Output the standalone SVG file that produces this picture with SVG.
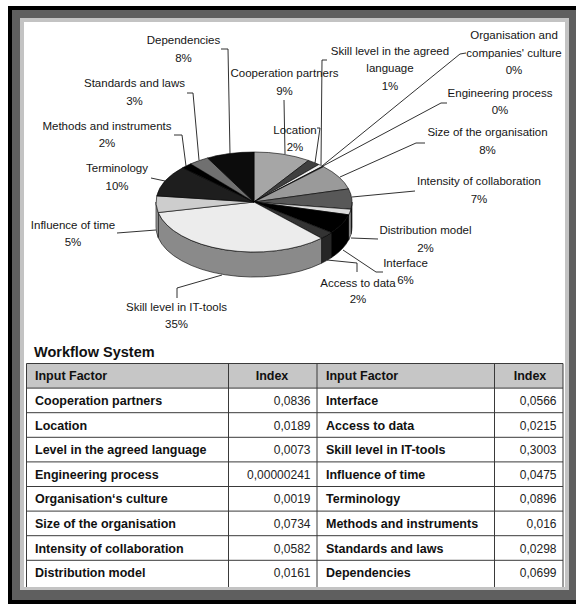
<svg xmlns="http://www.w3.org/2000/svg" width="576" height="604" viewBox="0 0 576 604">
  <style>
    .lbl { font-family: "Liberation Sans", Arial, sans-serif; font-size: 11.5px; fill: #151515; text-anchor: middle; }
    .slice { stroke: #000; stroke-width: 0.6; stroke-linejoin: round; }
    .lead { fill: none; stroke: #1a1a1a; stroke-width: 0.9; }
    .grid { stroke: #3a3a3a; stroke-width: 1; fill: none; }
    .th { font-family: "Liberation Sans", Arial, sans-serif; font-size: 12.5px; font-weight: bold; fill: #111; }
    .tn { font-family: "Liberation Sans", Arial, sans-serif; font-size: 12.5px; font-weight: bold; fill: #111; }
    .tv { font-family: "Liberation Sans", Arial, sans-serif; font-size: 12px; fill: #222; text-anchor: end; }
    .title { font-family: "Liberation Sans", Arial, sans-serif; font-size: 14.5px; font-weight: bold; fill: #111; }
  </style>

  <!-- window frame -->
  <g id="frame">
    <rect x="8" y="6" width="568" height="598" fill="#000"/>
    <rect x="12" y="10" width="564" height="590" fill="#5f5f5f"/>
    <rect x="20" y="18" width="549" height="572" fill="#c3c3c3"/>
    <rect x="24" y="22" width="541" height="565" fill="#fff"/>
  </g>

  <!-- 3D pie: side walls of the front half -->
  <g id="pie-sides">
    <path class="slice" fill="#3c3c3c" d="M352,202 A98,50 0 0 1 350.96,209.26 L350.96,234.26 A98,50 0 0 0 352,227 Z"/>
    <path class="slice" fill="#b4b4b4" d="M350.96,209.26 A98,50 0 0 1 348.73,214.82 L348.73,239.82 A98,50 0 0 0 350.96,234.26 Z"/>
    <path class="slice" fill="#000" d="M348.73,214.82 A98,50 0 0 1 331.52,232.6 L331.52,257.6 A98,50 0 0 0 348.73,239.82 Z"/>
    <path class="slice" fill="#262626" d="M331.52,232.6 A98,50 0 0 1 321.52,238.24 L321.52,263.24 A98,50 0 0 0 331.52,257.6 Z"/>
    <path class="slice" fill="#8a8a8a" d="M321.52,238.24 A98,50 0 0 1 158.21,212.56 L158.21,237.56 A98,50 0 0 0 321.52,263.24 Z"/>
    <path class="slice" fill="#a8a8a8" d="M158.21,212.56 A98,50 0 0 1 156,202 L156,227 A98,50 0 0 0 158.21,237.56 Z"/>
  </g>

  <!-- 3D pie: top faces, clockwise from 12 o'clock -->
  <g id="pie-top">
    <path id="s-cooperation" class="slice" fill="#a6a6a6" d="M254,202 L254,152 A98,50 0 0 1 308.51,160.44 Z"/>
    <path id="s-location" class="slice" fill="#404040" d="M254,202 L308.51,160.44 A98,50 0 0 1 318.85,164.51 Z"/>
    <path id="s-language" class="slice" fill="#f0f0f0" d="M254,202 L318.85,164.51 A98,50 0 0 1 322.54,166.26 Z"/>
    <path id="s-culture" class="slice" fill="#303030" d="M254,202 L322.54,166.26 A98,50 0 0 1 323.47,166.73 Z"/>
    <path id="s-size" class="slice" fill="#9a9a9a" d="M254,202 L323.47,166.73 A98,50 0 0 1 348.58,188.91 Z"/>
    <path id="s-intensity" class="slice" fill="#585858" d="M254,202 L348.58,188.91 A98,50 0 0 1 350.96,209.26 Z"/>
    <path id="s-distribution" class="slice" fill="#dcdcdc" d="M254,202 L350.96,209.26 A98,50 0 0 1 348.73,214.82 Z"/>
    <path id="s-interface" class="slice" fill="#000" d="M254,202 L348.73,214.82 A98,50 0 0 1 331.52,232.6 Z"/>
    <path id="s-access" class="slice" fill="#333" d="M254,202 L331.52,232.6 A98,50 0 0 1 321.52,238.24 Z"/>
    <path id="s-ittools" class="slice" fill="#ececec" d="M254,202 L321.52,238.24 A98,50 0 0 1 158.21,212.56 Z"/>
    <path id="s-time" class="slice" fill="#cdcdcd" d="M254,202 L158.21,212.56 A98,50 0 0 1 156.73,195.89 Z"/>
    <path id="s-terminology" class="slice" fill="#1e1e1e" d="M254,202 L156.73,195.89 A98,50 0 0 1 182.63,167.74 Z"/>
    <path id="s-methods" class="slice" fill="#000" d="M254,202 L182.63,167.74 A98,50 0 0 1 190.64,163.86 Z"/>
    <path id="s-standards" class="slice" fill="#707070" d="M254,202 L190.64,163.86 A98,50 0 0 1 207.62,157.96 Z"/>
    <path id="s-dependencies" class="slice" fill="#0c0c0c" d="M254,202 L207.62,157.96 A98,50 0 0 1 254,152 Z"/>
  </g>

  <!-- leader lines from slices to labels -->
  <g id="leaders">
    <polyline class="lead" points="221,49 228,49 230,154"/>
    <polyline class="lead" points="187,93 193,93 199,160"/>
    <polyline class="lead" points="174,135 182,135 186,166"/>
    <polyline class="lead" points="151,178 165,181"/>
    <polyline class="lead" points="117,233 156,230"/>
    <polyline class="lead" points="177,298 177,288 222,275"/>
    <polyline class="lead" points="327,260 357,263 357,272"/>
    <polyline class="lead" points="343,250 376,272 383,272"/>
    <polyline class="lead" points="351,238 378,239"/>
    <polyline class="lead" points="352,197 415,191"/>
    <polyline class="lead" points="340,177 416,143 425,143"/>
    <polyline class="lead" points="323,166 441,103 447,103"/>
    <polyline class="lead" points="322,166 460,54 466,53"/>
    <polyline class="lead" points="321,165 322,60 327,60"/>
    <polyline class="lead" points="317,128 320,128 315,163"/>
    <polyline class="lead" points="284,100 285,154"/>
  </g>

  <!-- slice labels -->
  <g id="l-dependencies"><text class="lbl" x="183.5" y="44">Dependencies</text><text class="lbl" x="183.5" y="62">8%</text></g>
  <g id="l-standards"><text class="lbl" x="134.5" y="87">Standards and laws</text><text class="lbl" x="134.5" y="105">3%</text></g>
  <g id="l-methods"><text class="lbl" x="107" y="130">Methods and instruments</text><text class="lbl" x="107" y="147">2%</text></g>
  <g id="l-terminology"><text class="lbl" x="117" y="172">Terminology</text><text class="lbl" x="117" y="190">10%</text></g>
  <g id="l-time"><text class="lbl" x="73" y="229">Influence of time</text><text class="lbl" x="73" y="246">5%</text></g>
  <g id="l-ittools"><text class="lbl" x="176.5" y="311">Skill level in IT-tools</text><text class="lbl" x="176.5" y="328">35%</text></g>
  <g id="l-cooperation"><text class="lbl" x="284.5" y="77">Cooperation partners</text><text class="lbl" x="284.5" y="95">9%</text></g>
  <g id="l-location"><text class="lbl" x="295" y="134">Location</text><text class="lbl" x="295" y="151">2%</text></g>
  <g id="l-language"><text class="lbl" x="390" y="55">Skill level in the agreed</text><text class="lbl" x="390" y="72">language</text><text class="lbl" x="390" y="90">1%</text></g>
  <g id="l-culture"><text class="lbl" x="514" y="39">Organisation and</text><text class="lbl" x="514" y="57">companies' culture</text><text class="lbl" x="514" y="74">0%</text></g>
  <g id="l-engineering"><text class="lbl" x="500" y="97">Engineering process</text><text class="lbl" x="500" y="114">0%</text></g>
  <g id="l-size"><text class="lbl" x="487.5" y="136">Size of the organisation</text><text class="lbl" x="487.5" y="154">8%</text></g>
  <g id="l-intensity"><text class="lbl" x="479" y="185">Intensity of collaboration</text><text class="lbl" x="479" y="203">7%</text></g>
  <g id="l-distribution"><text class="lbl" x="425.5" y="234">Distribution model</text><text class="lbl" x="425.5" y="252">2%</text></g>
  <g id="l-interface"><text class="lbl" x="405.5" y="267">Interface</text><text class="lbl" x="405.5" y="284">6%</text></g>
  <g id="l-access"><text class="lbl" x="358" y="287">Access to data</text><text class="lbl" x="358" y="303">2%</text></g>

  <!-- index table -->
  <g id="table">
    <text class="title" x="34" y="357">Workflow System</text>
    <rect x="26.5" y="363.5" width="536.5" height="24.6" fill="#c6c6c6"/>
    <g class="grid">
      <path d="M26.5,587 V363.5 H563 V587"/>
      <path d="M228.5,363.5 V587 M317,363.5 V587 M494.5,363.5 V587"/>
      <path d="M26.5,388.1 H563 M26.5,412.7 H563 M26.5,437.3 H563 M26.5,461.9 H563 M26.5,486.5 H563 M26.5,511.1 H563 M26.5,535.7 H563 M26.5,560.3 H563"/>
    </g>
    <text class="th" x="35" y="380">Input Factor</text>
    <text class="th" x="272" y="380" text-anchor="middle">Index</text>
    <text class="th" x="326" y="380">Input Factor</text>
    <text class="th" x="530" y="380" text-anchor="middle">Index</text>

    <text class="tn" x="35" y="405">Cooperation partners</text><text class="tv" x="310.5" y="405">0,0836</text>
    <text class="tn" x="326" y="405">Interface</text><text class="tv" x="556.5" y="405">0,0566</text>

    <text class="tn" x="35" y="429.6">Location</text><text class="tv" x="310.5" y="429.6">0,0189</text>
    <text class="tn" x="326" y="429.6">Access to data</text><text class="tv" x="556.5" y="429.6">0,0215</text>

    <text class="tn" x="35" y="454.2">Level in the agreed language</text><text class="tv" x="310.5" y="454.2">0,0073</text>
    <text class="tn" x="326" y="454.2">Skill level in IT-tools</text><text class="tv" x="556.5" y="454.2">0,3003</text>

    <text class="tn" x="35" y="478.8">Engineering process</text><text class="tv" x="310.5" y="478.8">0,00000241</text>
    <text class="tn" x="326" y="478.8">Influence of time</text><text class="tv" x="556.5" y="478.8">0,0475</text>

    <text class="tn" x="35" y="503.4">Organisation‘s culture</text><text class="tv" x="310.5" y="503.4">0,0019</text>
    <text class="tn" x="326" y="503.4">Terminology</text><text class="tv" x="556.5" y="503.4">0,0896</text>

    <text class="tn" x="35" y="528">Size of the organisation</text><text class="tv" x="310.5" y="528">0,0734</text>
    <text class="tn" x="326" y="528">Methods and instruments</text><text class="tv" x="556.5" y="528">0,016</text>

    <text class="tn" x="35" y="552.6">Intensity of collaboration</text><text class="tv" x="310.5" y="552.6">0,0582</text>
    <text class="tn" x="326" y="552.6">Standards and laws</text><text class="tv" x="556.5" y="552.6">0,0298</text>

    <text class="tn" x="35" y="577.2">Distribution model</text><text class="tv" x="310.5" y="577.2">0,0161</text>
    <text class="tn" x="326" y="577.2">Dependencies</text><text class="tv" x="556.5" y="577.2">0,0699</text>
  </g>
</svg>
